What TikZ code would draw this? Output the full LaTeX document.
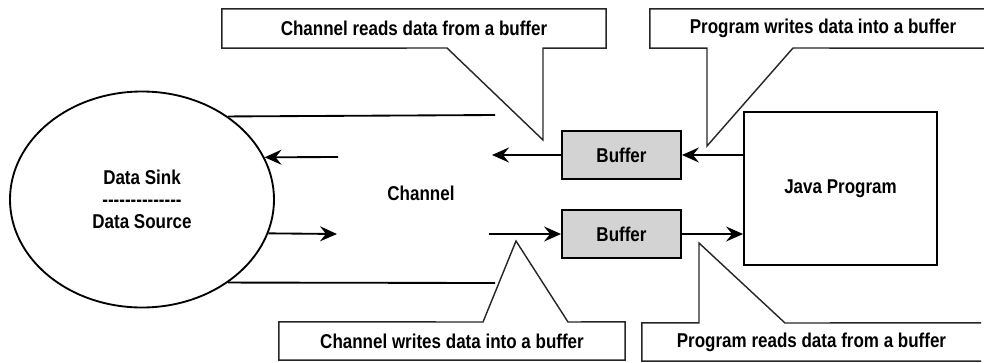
\documentclass[tikz,border=0pt]{standalone}
\usepackage{fontspec}
\setmainfont{Liberation Sans}[UprightFont=* Bold, FakeStretch=0.85]
\usepackage{tikz}
\usetikzlibrary{calc,arrows.meta,shapes.geometric}
\definecolor{bufgray}{RGB}{211,211,211}
\tikzset{
	flow/.style={line width=0.65mm, -{Stealth[length=17pt,width=15pt,inset=6pt]}},
	wall/.style={line width=0.65mm},
	callout/.style={line width=0.5mm, color=black!85, line join=miter},
	calltext/.style={inner sep=0, minimum height=39pt},
	bufbox/.style={draw, line width=0.65mm, fill=bufgray, minimum width=119pt, minimum height=48pt, inner sep=0}
}

\begin{document}
\begin{tikzpicture}[x=1pt, y=-1pt, font=\fontsize{20}{22}\selectfont]
		%%%%% START %%%%%
		\useasboundingbox (0, 0) rectangle (984, 362);
		
		\node[draw, ellipse, line width=0.65mm, minimum width=264pt, minimum height=216pt, inner sep=0] (sink) at (142, 199.5) {};
		\node[align=center] (sinktext) at (142, 199) {Data Sink\\-{}-{}-{}-{}-{}-{}-{}-{}-{}-{}-{}-{}-{}-\\Data Source};
		
		\node (chan) at (421, 193) {Channel};
		
		\node[bufbox] (bufR) at (621.5, 155) {Buffer};
		\node[bufbox] (bufW) at (621.5, 234) {Buffer};
		
		\node[draw, line width=0.65mm, minimum width=193pt, minimum height=153pt, inner sep=0] (java) at (840.5, 188.5) {Java Program};
		
		% channel walls
		\coordinate (wallTop) at (495, 115);
		\coordinate (wallBot) at (495, 283);
		\draw[wall] (sink.44.7) -- (wallTop);
		\draw[wall] (sink.-44.7) -- (wallBot);
		
		% reading side
		\coordinate (inStart) at (338, 157);
		\coordinate (rdEnd) at (492, 155);
		\draw[flow] (inStart) -- (sink.19);
		\draw[flow] (bufR.west) -- (rdEnd);
		\draw[flow] (java.west |- bufR.east) -- (bufR.east);
		
		% writing side
		\coordinate (outEnd) at (337, 234);
		\coordinate (wrStart) at (489, 234);
		\draw[flow] (sink.-15.6) -- (outEnd);
		\draw[flow] (wrStart) -- (bufW.west);
		\draw[flow] (bufW.east) -- (java.west |- bufW.east);
		
		% callouts
		\node[calltext, minimum width=384pt] (crR) at (414, 28.5) {Channel reads data from a buffer};
		\coordinate (tipCR) at (543, 140);
		\draw[callout] (crR.south west) -- (crR.north west) -- (crR.north east) -- (crR.south east) -- (tipCR |- crR.south) -- (tipCR) -- (447, 48) -- cycle;
		
		\node[calltext, minimum width=346pt] (pwR) at (823, 28.5) {Program writes data into a buffer};
		\coordinate (tipPW) at (707, 146);
		\draw[callout] (pwR.north east) -- (pwR.north west) -- (pwR.south west) -- (tipPW |- pwR.south) -- (tipPW) -- (793, 48) -- (pwR.south east);
		
		\node[calltext, minimum width=346pt, minimum height=38pt] (cwR) at (452, 341) {Channel writes data into a buffer};
		\coordinate (tipCW) at (516, 241);
		\draw[callout] (cwR.north west) -- (483, 322) -- (tipCW) -- (568, 322) -- (cwR.north east) -- (cwR.south east) -- (cwR.south west) -- cycle;
		
		\node[calltext, minimum width=339pt, minimum height=38pt] (prR) at (811.5, 342) {Program reads data from a buffer};
		\coordinate (tipPR) at (699, 243);
		\draw[callout] (prR.north east) -- (785, 323) -- (tipPR) -- (tipPR |- prR.north) -- (prR.north west) -- (prR.south west) -- (prR.south east);
		
		%%%%% END %%%%%
	\end{tikzpicture}
\end{document}
